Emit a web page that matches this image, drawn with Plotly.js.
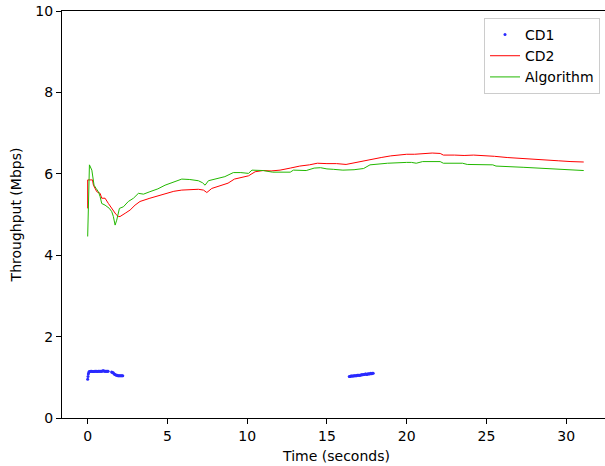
<!DOCTYPE html>
<html>
<head>
<meta charset="utf-8">
<script src="https://cdn.plot.ly/plotly-3.0.1.min.js"></script>
<style>
html,body{margin:0;padding:0;overflow:hidden;background:#fff;}
#chart{width:612px;height:466px;}
</style>
</head>
<body>
<div id="chart"></div>
<script>
// CD1 (dots)
const cd1T = [0.0,0.02,0.04,0.07,0.1,0.15,0.2,0.25,0.3,0.35,0.4,0.45,0.5,0.55,0.6,0.65,0.7,0.75,0.8,0.85,0.9,0.95,1.0,1.05,1.1,1.15,1.2,1.25,1.28,
  1.5,1.55,1.6,1.65,1.7,1.75,1.8,1.85,1.9,1.95,2.0,2.05,2.1,2.15,2.2,
  16.4,16.45,16.5,16.55,16.6,16.65,16.7,16.75,16.8,16.85,16.9,16.95,17.0,17.05,17.1,17.15,17.2,17.25,17.3,17.35,17.4,17.45,17.5,17.55,17.6,17.65,17.7,17.75,17.8,17.85,17.9];
const cd1V = [0.95,1.02,1.08,1.12,1.14,1.14,1.15,1.15,1.14,1.14,1.14,1.15,1.15,1.15,1.14,1.15,1.15,1.15,1.15,1.15,1.15,1.16,1.16,1.15,1.15,1.15,1.15,1.15,1.15,
  1.13,1.12,1.11,1.09,1.07,1.06,1.05,1.05,1.04,1.04,1.04,1.04,1.04,1.04,1.04,
  1.02,1.02,1.03,1.03,1.03,1.03,1.04,1.04,1.04,1.04,1.05,1.05,1.05,1.05,1.05,1.06,1.06,1.06,1.07,1.07,1.08,1.08,1.07,1.08,1.09,1.08,1.09,1.10,1.09,1.10,1.10];

// CD2 (red line)
const cd2T = [0,0,0.3,0.36,0.57,0.78,0.88,1.09,1.3,1.51,1.61,1.78,1.93,2.03,2.35,2.66,2.97,3.28,3.9,4.4,4.85,5.4,5.9,6.5,6.94,7.26,7.47,7.78,8.3,8.8,9.2,9.6,10.08,10.5,11.0,11.5,12.06,12.7,13.3,13.9,14.4,15.0,15.6,16.2,16.8,17.3,17.7,18.4,19.0,19.5,20.0,20.5,21.0,21.6,22.1,22.3,23.0,23.6,24.2,24.8,25.5,26.3,27.3,28.4,29.5,30.3,31.1];
const cd2V = [5.15,5.85,5.85,5.72,5.56,5.52,5.40,5.40,5.27,5.15,5.12,5.00,4.95,4.95,5.03,5.11,5.23,5.32,5.40,5.46,5.52,5.57,5.60,5.61,5.62,5.60,5.54,5.64,5.70,5.77,5.87,5.91,5.95,6.05,6.08,6.07,6.09,6.14,6.19,6.22,6.26,6.25,6.25,6.23,6.28,6.31,6.36,6.40,6.44,6.46,6.48,6.48,6.50,6.51,6.50,6.46,6.46,6.45,6.46,6.45,6.43,6.40,6.37,6.34,6.32,6.30,6.29];

// Algorithm (green line)
const algT = [0,0.11,0.26,0.4,0.53,0.67,0.78,0.88,1.09,1.36,1.51,1.61,1.72,1.82,1.99,2.24,2.55,2.87,3.18,3.5,3.9,4.4,4.85,5.4,5.9,6.4,6.94,7.2,7.36,7.57,8.1,8.6,9.13,9.6,10.08,10.3,11.0,11.6,12.7,12.9,13.7,14.2,14.6,15.0,15.4,16.0,16.7,17.3,17.7,18.3,18.8,20.0,20.3,20.6,21.0,22.1,22.3,23.5,23.8,25.4,25.6,27.3,29.0,31.1];
const algV = [4.46,6.22,6.09,5.72,5.64,5.56,5.44,5.27,5.23,5.15,5.07,4.95,4.74,4.86,5.15,5.19,5.32,5.40,5.52,5.50,5.56,5.63,5.72,5.80,5.87,5.86,5.83,5.78,5.72,5.83,5.88,5.93,6.03,6.03,6.01,6.09,6.08,6.04,6.04,6.09,6.08,6.14,6.15,6.12,6.11,6.09,6.10,6.13,6.22,6.25,6.26,6.28,6.28,6.26,6.30,6.30,6.26,6.26,6.23,6.22,6.19,6.16,6.12,6.08];

const xTicks = [0,5,10,15,20,25,30];
const yTicks = [0,2,4,6,8,10];

const FONT = 'DejaVu Sans, Liberation Sans, sans-serif';
const FS = 14;

const traces = [
  {x: cd1T, y: cd1V, name: 'CD1', type: 'scatter', mode: 'markers',
   marker: {color: '#2a2aff', size: 3}},
  {x: cd2T, y: cd2V, name: 'CD2', type: 'scatter', mode: 'lines',
   line: {color: '#ff0000', width: 1}},
  {x: algT, y: algV, name: 'Algorithm', type: 'scatter', mode: 'lines',
   line: {color: '#22b800', width: 1}}
];

const axisCommon = {
  showgrid: false, zeroline: false, showline: true, linecolor: '#000', linewidth: 1,
  mirror: true, ticks: 'outside', ticklen: 5, tickcolor: '#000', tickwidth: 1,
  tickfont: {family: FONT, size: FS, color: '#000'}
};

const layout = {
  width: 612, height: 466,
  margin: {l: 62, r: 1, t: 11, b: 48, pad: 0},
  paper_bgcolor: '#fff', plot_bgcolor: '#fff',
  font: {family: FONT, size: FS, color: '#000'},
  showlegend: true,
  legend: {x: 0.98, y: 0.983, xanchor: 'right', yanchor: 'top',
           bgcolor: '#fff', bordercolor: '#cccccc', borderwidth: 1,
           font: {family: FONT, size: FS, color: '#000'}, itemwidth: 30,
           tracegroupgap: 0},
  xaxis: Object.assign({}, axisCommon, {
    range: [-1.61, 32.81], tickvals: xTicks, ticktext: xTicks.map(String),
    title: {text: 'Time (seconds)', font: {family: FONT, size: FS, color: '#000'}, standoff: 8}
  }),
  yaxis: Object.assign({}, axisCommon, {
    range: [0, 10], tickvals: yTicks, ticktext: yTicks.map(String),
    title: {text: 'Throughput (Mbps)', font: {family: FONT, size: FS, color: '#000'}, standoff: 10}
  })
};

Plotly.newPlot('chart', traces, layout, {displayModeBar: false, staticPlot: true});
</script>
</body>
</html>
